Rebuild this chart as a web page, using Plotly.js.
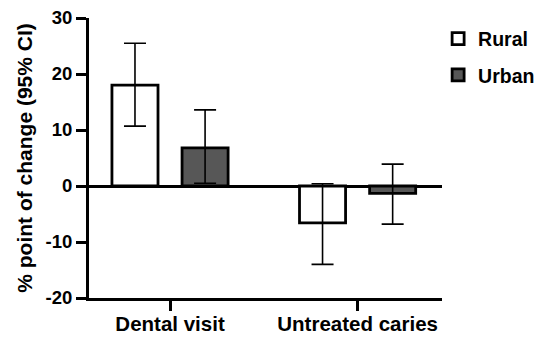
<!DOCTYPE html>
<html>
<head>
<meta charset="utf-8">
<script src="https://cdn.plot.ly/plotly-3.0.1.min.js"></script>
<style>html,body{margin:0;padding:0;background:#fff;}#chart{width:545px;height:337px;}</style>
</head>
<body>
<div id="chart"></div>
<script>
const categories = ["Dental visit", "Untreated caries"];
const ruralValues = [18.0, -6.6];
const ruralLow = [10.7, -14.0];
const ruralHigh = [25.5, 0.4];
const urbanValues = [6.8, -1.3];
const urbanLow = [0.5, -6.8];
const urbanHigh = [13.6, 3.9];
const yTicks = [-20, -10, 0, 10, 20, 30];

function errUp(v, h) { return v.map((x, i) => h[i] - x); }
function errDown(v, l) { return v.map((x, i) => x - l[i]); }

const errStyle = {color: "#000", thickness: 1.6, width: 11};

const traces = [
  {
    type: "bar", name: "Rural", x: categories, y: ruralValues,
    marker: {color: "#ffffff", line: {color: "#000", width: 2.8}},
    error_y: Object.assign({type: "data", symmetric: false,
      array: errUp(ruralValues, ruralHigh), arrayminus: errDown(ruralValues, ruralLow)}, errStyle),
    legendgroup: "a"
  },
  {
    type: "bar", name: "Urban", x: categories, y: urbanValues,
    marker: {color: "#575757", line: {color: "#000", width: 2.8}},
    error_y: Object.assign({type: "data", symmetric: false,
      array: errUp(urbanValues, urbanHigh), arrayminus: errDown(urbanValues, urbanLow)}, errStyle),
    legendgroup: "b"
  }
];

const font = {family: "Liberation Sans, Arial, sans-serif", color: "#000"};

const layout = {
  width: 545, height: 337,
  margin: {l: 89, r: 103, t: 18, b: 39, pad: 0, autoexpand: false},
  paper_bgcolor: "#fff", plot_bgcolor: "#fff",
  barmode: "group", bargap: 0.2525, bargroupgap: 0.343,
  font: Object.assign({size: 18}, font),
  xaxis: {
    type: "category", range: [-0.432, 1.45],
    showline: true, linecolor: "#000", linewidth: 3,
    ticks: "outside", ticklen: 10, tickwidth: 3, tickcolor: "#000",
    ticklabelstandoff: -5,
    tickfont: Object.assign({size: 20.5, weight: "bold"}, font),
    showgrid: false, zeroline: false, fixedrange: true
  },
  yaxis: {
    range: [-20, 30], tickvals: yTicks, ticktext: yTicks.map(String),
    showline: true, linecolor: "#000", linewidth: 3,
    ticks: "outside", ticklen: 10, tickwidth: 3, tickcolor: "#000",
    tickfont: Object.assign({size: 18.5, weight: "bold"}, font),
    showgrid: false, zeroline: true, zerolinecolor: "#000", zerolinewidth: 3,
    title: {text: "% point of change (95% CI)", font: Object.assign({size: 21, weight: "bold"}, font), standoff: 8},
    fixedrange: true
  },
  showlegend: true,
  legend: {
    x: 0.989, y: 0.995, xanchor: "left", yanchor: "top",
    traceorder: "grouped", tracegroupgap: 8,
    font: Object.assign({size: 19.5, weight: "bold"}, font),
    bgcolor: "rgba(0,0,0,0)"
  }
};

Plotly.newPlot("chart", traces, layout, {displayModeBar: false, staticPlot: true});
</script>
</body>
</html>
